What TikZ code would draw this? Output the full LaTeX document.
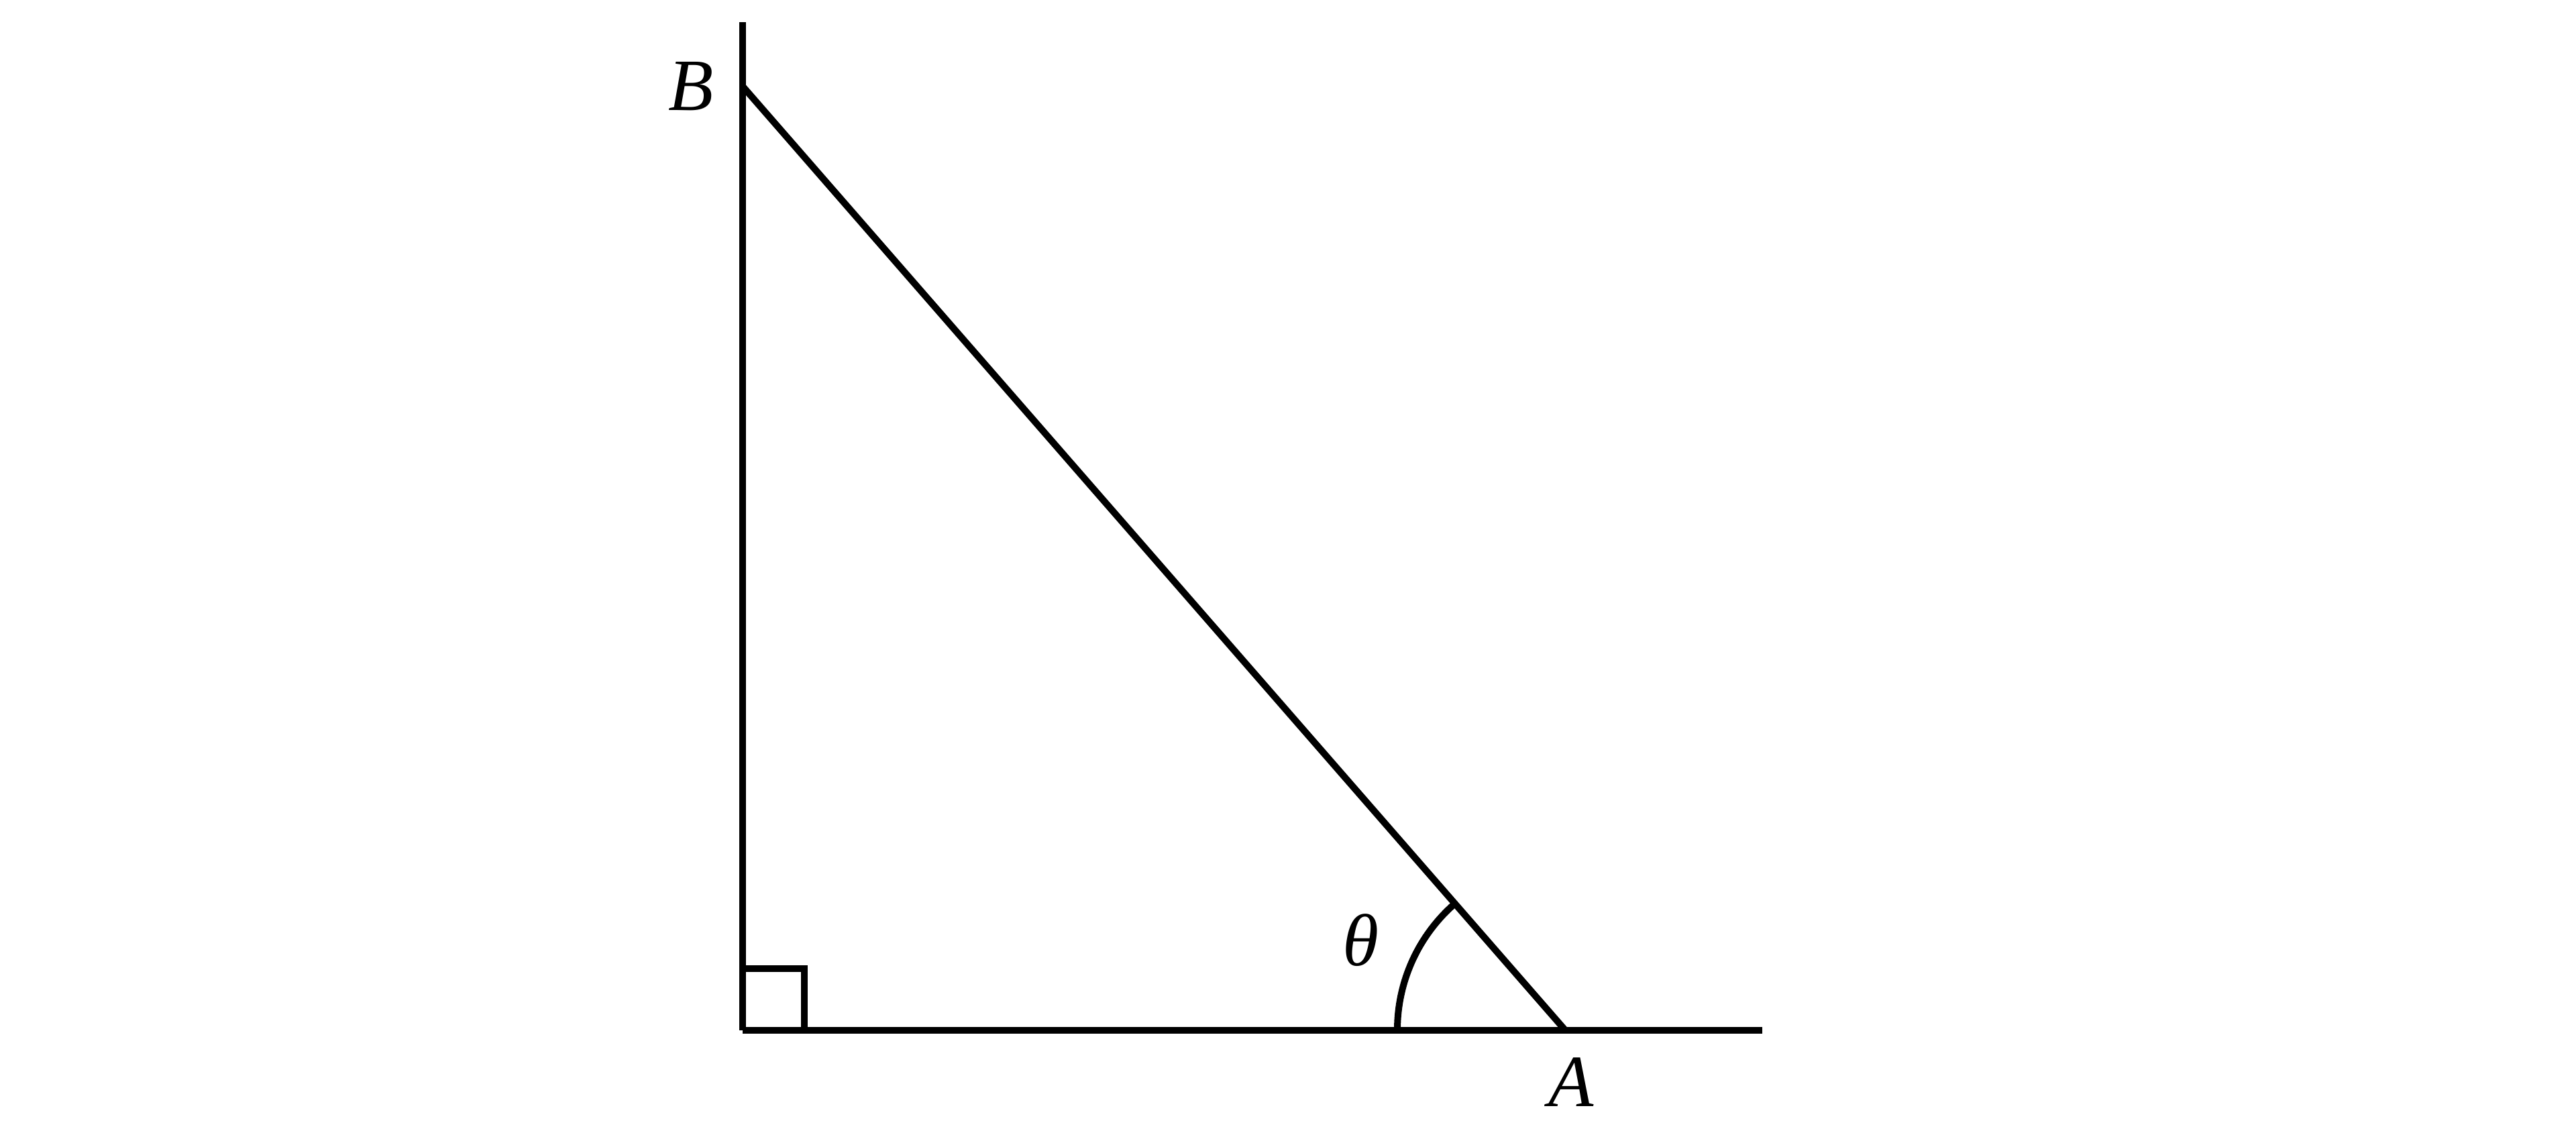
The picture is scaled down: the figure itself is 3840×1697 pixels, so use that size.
\documentclass[tikz,border=0pt]{standalone}
\usepackage{fontspec}
\setmainfont{Liberation Serif}
\usetikzlibrary{calc}

\begin{document}
\begin{tikzpicture}[x=0.1pt, y=0.1pt, line width=1pt, line cap=butt,
    lbl/.style={inner sep=0pt, font=\fontsize{11}{13}\selectfont\itshape}]
            \useasboundingbox (0,0) rectangle (3840,1697);
            \coordinate (o) at (1106.5,161.5);
            \coordinate (top) at (1106.5,1664);
            \coordinate (end) at (2626.5,161.5);
            \coordinate (a) at (2333,161.5);
            \coordinate (b) at (1106.5,1569);
            \draw (o) -- (top);
            \draw (o) -- (end);
            \draw (b) -- (a);
            \draw ($(o)+(0,92)$) -- ++(92,0) -- ++(0,-92);
            \draw let \p1 = ($(b)-(a)$), \n1 = {atan2(\y1,\x1)} in
              ($(a)+(-250,0)$) arc[start angle=180, end angle=\n1, radius=250];
            \node[lbl] (lb) at (1030,1568) {B};
            \node[lbl] (la) at (2342,84) {A};
            \node[lbl] (lt) at (2028,295) {θ};
        \end{tikzpicture}
\end{document}
